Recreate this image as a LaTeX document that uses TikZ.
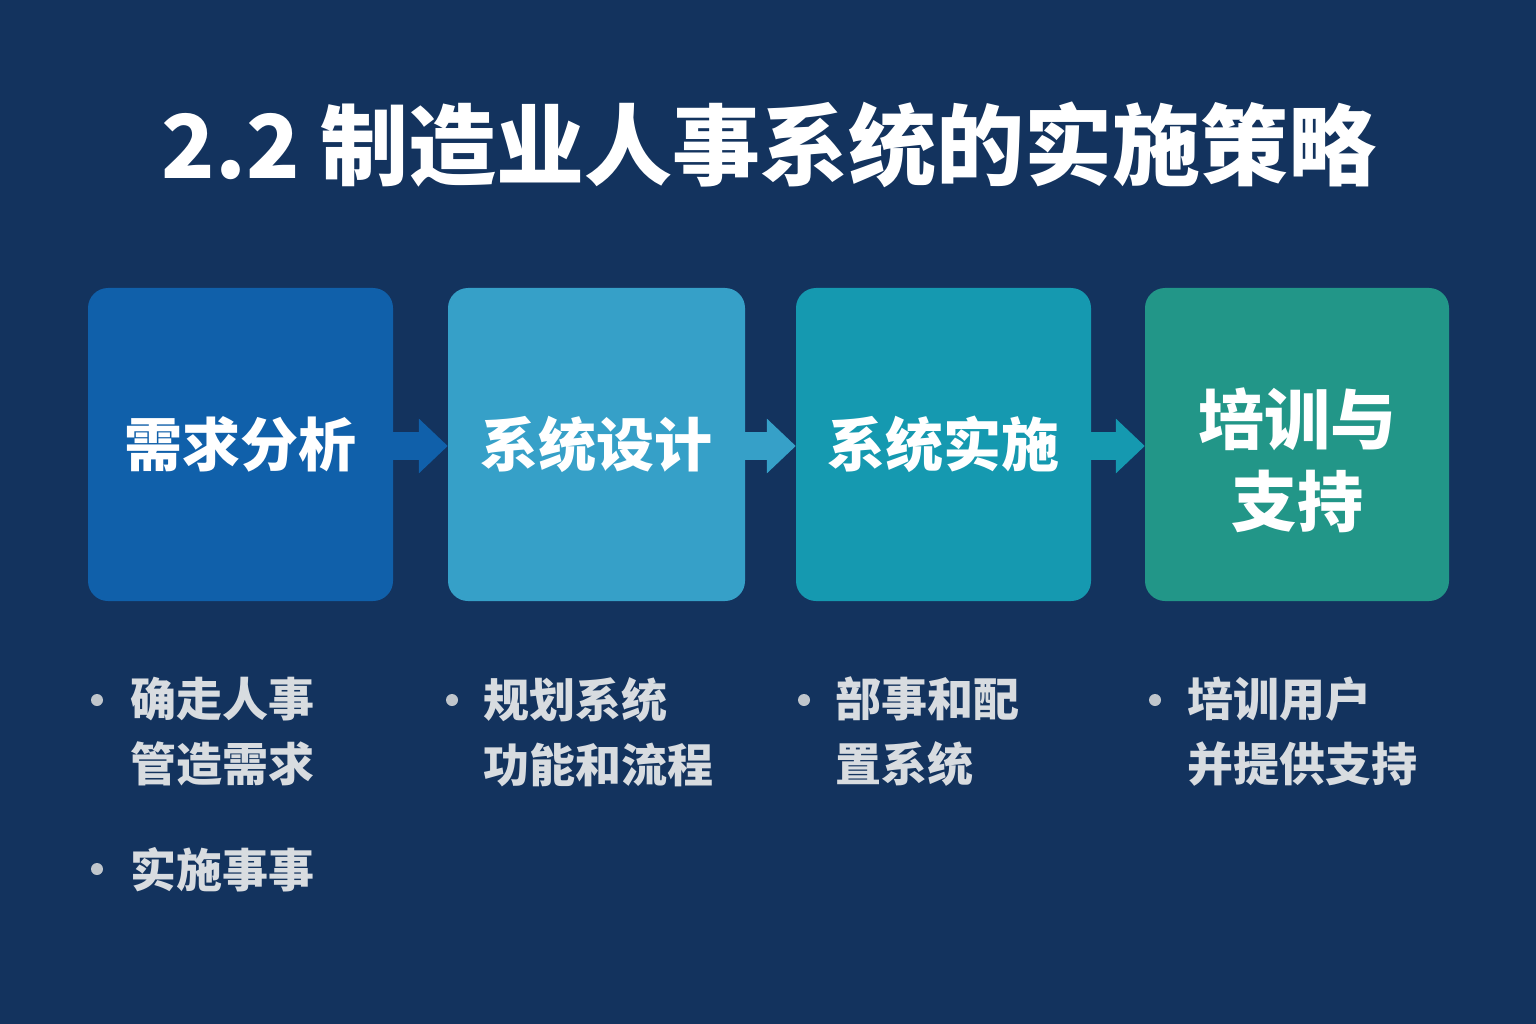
\documentclass[tikz,border=0pt]{standalone}
\usepackage{fontspec}
\setmainfont{Noto Sans CJK SC}
\usetikzlibrary{arrows.meta}
\definecolor{bg}{HTML}{13335E}
\definecolor{cA}{HTML}{1060AA}
\definecolor{cB}{HTML}{36A0C8}
\definecolor{cC}{HTML}{1599B0}
\definecolor{cD}{HTML}{229688}
\definecolor{btxt}{HTML}{D8DCE0}
\definecolor{dot}{HTML}{C0C6CC}
\tikzset{
  stepbox/.style={rounded corners=20pt, minimum height=313pt, inner sep=0pt, text=white, align=center, font=\fontsize{58}{82}\selectfont\bfseries},
  flowarrow/.style={line width=28pt, -{Triangle[length=29pt,width=53pt]}},
  bullettext/.style={anchor=north west, inner sep=0pt, align=left, text=btxt, font=\fontsize{46}{65}\selectfont\bfseries},
  bulletdot/.style={circle, fill=dot, minimum size=12pt, inner sep=0pt},
}
\begin{document}
\begin{tikzpicture}[x=1pt,y=-1pt]
\fill[bg] (0,0) rectangle (1536,1024);
\useasboundingbox (0,0) rectangle (1536,1024);
\node[text=white, font=\fontsize{88}{100}\selectfont\bfseries] (title) at (769,145) {2.2 制造业人事系统的实施策略};
\node[stepbox, fill=cA, minimum width=305pt] (b1) at (240.5,444.5) {需求分析};
\node[stepbox, fill=cB, minimum width=297pt] (b2) at (596.5,444.5) {系统设计};
\node[stepbox, fill=cC, minimum width=295pt] (b3) at (943.5,444.5) {系统实施};
\node[stepbox, fill=cD, minimum width=304pt, text depth=0pt, font=\fontsize{66}{84}\selectfont\bfseries] (b4) at (1297,444.5) {\raisebox{29pt}{\begin{tabular}{@{}c@{}}培训与\\[-2pt]支持\end{tabular}}};
\draw[flowarrow, cA] ([yshift=-1.5pt]b1.east) -- ([yshift=-1.5pt]b2.west);
\draw[flowarrow, cB] ([yshift=-1.5pt]b2.east) -- ([yshift=-1.5pt]b3.west);
\draw[flowarrow, cC] ([yshift=-1.5pt]b3.east) -- ([yshift=-1.5pt]b4.west);
% bullets
\node[bulletdot] (d1) at (97,700) {};
\node[bullettext] (t1) at (130,677) {确走人事\\管造需求};
\node[bulletdot] (d1b) at (97,869) {};
\node[bullettext] (t1b) at (130,847) {实施事事};
\node[bulletdot] (d2) at (452,700) {};
\node[bullettext] (t2) at (483,677) {规划系统\\功能和流程};
\node[bulletdot] (d3) at (804,700) {};
\node[bullettext] (t3) at (835,677) {部事和配\\置系统};
\node[bulletdot] (d4) at (1155,700) {};
\node[bullettext] (t4) at (1187,677) {培训用户\\并提供支持};
\end{tikzpicture}
\end{document}
